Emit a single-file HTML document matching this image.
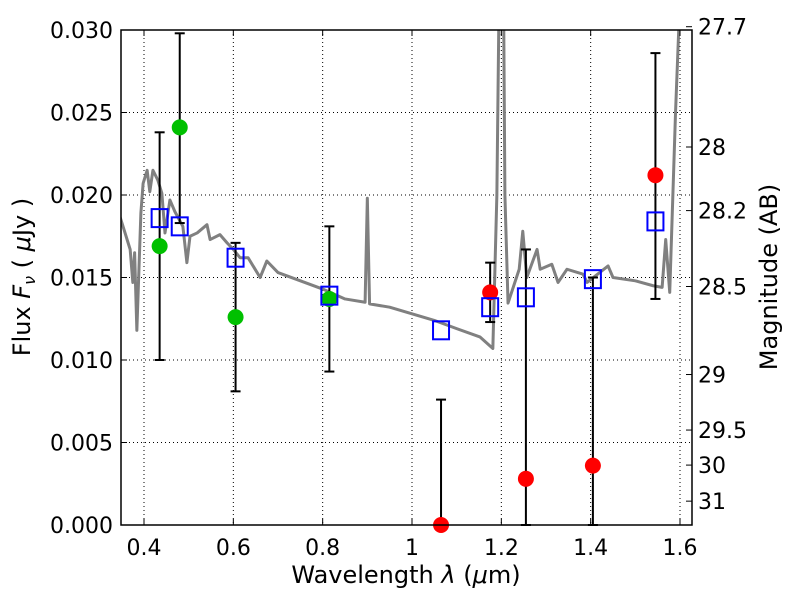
<!DOCTYPE html>
<html><head><meta charset="utf-8"><style>
body{margin:0;background:#fff;}
svg text{font-family:"DejaVu Sans","Liberation Sans",sans-serif;fill:#000;}
</style></head><body>
<svg id="chart" width="800" height="600" viewBox="0 0 800 600">
<rect width="800" height="600" fill="#fff"/>
<defs><clipPath id="clip"><rect x="121" y="30" width="571" height="495"/></clipPath></defs>
<g id="grid"></g>
<g id="spec" clip-path="url(#clip)"></g>
<g id="marks"></g>
<rect x="121" y="30" width="571" height="495" fill="none" stroke="#000" stroke-width="1.5"/>
<g id="axes"></g>
<text x="406" y="583" font-size="24" text-anchor="middle">Wavelength  <tspan font-style="italic">λ</tspan> (<tspan font-style="italic">μ</tspan>m)</text>
<text transform="translate(30,277) rotate(-90)" font-size="24" text-anchor="middle">Flux  <tspan font-style="italic">F</tspan><tspan font-style="italic" font-size="16" dy="5">ν</tspan><tspan dy="-5">  ( </tspan><tspan font-style="italic">μ</tspan>Jy )</text>
<text transform="translate(777,277) rotate(-90)" font-size="24" text-anchor="middle">Magnitude (AB)</text>
</svg>
<script>
const specLam=[0.346,0.353,0.369,0.375,0.379,0.384,0.393,0.398,0.407,0.413,0.42,0.431,0.44,0.447,0.458,0.469,0.487,0.496,0.503,0.519,0.541,0.548,0.57,0.586,0.6,0.615,0.633,0.66,0.675,0.7,0.75,0.8,0.85,0.895,0.9,0.905,0.95,1.0,1.05,1.1,1.152,1.181,1.19,1.195,1.205,1.208,1.215,1.24,1.248,1.257,1.28,1.287,1.313,1.327,1.347,1.383,1.392,1.439,1.45,1.5,1.54,1.56,1.568,1.577,1.59,1.6,1.62,1.63];
const specFlux=[0.0187,0.0181,0.0167,0.0147,0.0165,0.0118,0.0189,0.0207,0.0215,0.0202,0.0215,0.0209,0.0201,0.0177,0.0197,0.019,0.0181,0.0159,0.0175,0.0177,0.0182,0.0173,0.0176,0.0171,0.0167,0.0162,0.0162,0.015,0.016,0.0153,0.0148,0.0143,0.0137,0.0135,0.0198,0.0134,0.0132,0.0128,0.0124,0.0119,0.0114,0.0107,0.02,0.032,0.032,0.02,0.01345,0.0155,0.0178,0.015,0.0167,0.0155,0.0158,0.0147,0.0155,0.0152,0.0147,0.0157,0.015,0.0148,0.0145,0.0144,0.0173,0.0141,0.025,0.032,0.032,0.032];
const bandLam=[0.435,0.48,0.605,0.815,1.065,1.175,1.255,1.405,1.545];
const obsFlux=[0.0169,0.0241,0.0126,0.0137,0.0,0.0141,0.0028,0.0036,0.0212];
const errLo=[0.0100,0.0183,0.0081,0.0093,0.0,0.0123,0.0,0.0,0.0137];
const errHi=[0.0238,0.0298,0.0171,0.0181,0.0076,0.0159,0.0167,0.0150,0.0286];
const modelFlux=[0.0186,0.0181,0.0162,0.0139,0.0118,0.0132,0.0138,0.0149,0.0184];
const pointColor=['#00c000','#00c000','#00c000','#00c000','#ff0000','#ff0000','#ff0000','#ff0000','#ff0000'];
const xTicks=[0.4,0.6,0.8,1.0,1.2,1.4,1.6];
const xTickLabels=['0.4','0.6','0.8','1','1.2','1.4','1.6'];
const yTicks=[0,0.005,0.01,0.015,0.02,0.025,0.03];
const yTickLabels=['0.000','0.005','0.010','0.015','0.020','0.025','0.030'];
const magTicks=[27.7,28,28.2,28.5,29,29.5,30,31];
const magLabels=['27.7','28','28.2','28.5','29','29.5','30','31'];

const X=l=>144+(l-0.4)/1.2*536;
const Y=f=>525-f/0.03*495;
const magToFlux=m=>Math.pow(10,-0.4*(m-23.9));
const NS='http://www.w3.org/2000/svg';
function mk(tag,attrs,parent){const e=document.createElementNS(NS,tag);for(const k in attrs)e.setAttribute(k,attrs[k]);parent.appendChild(e);return e;}
const grid=document.getElementById('grid'),axes=document.getElementById('axes'),spec=document.getElementById('spec'),marks=document.getElementById('marks');

xTicks.forEach((t,i)=>{
  const x=X(t);
  const g=mk('line',{x1:x,x2:x,y1:30,y2:525,stroke:'#000','stroke-width':1,'stroke-dasharray':'1,3'},grid);
  
  
  mk('line',{x1:x,x2:x,y1:525,y2:519,stroke:'#000'},axes);
  mk('line',{x1:x,x2:x,y1:30,y2:36,stroke:'#000'},axes);
  const tx=mk('text',{x:x,y:555,'font-size':22,'text-anchor':'middle'},axes);
  tx.textContent=xTickLabels[i];
  
  
});
yTicks.forEach((t,i)=>{
  const y=Y(t);
  const g=mk('line',{x1:121,x2:692,y1:y,y2:y,stroke:'#000','stroke-width':1,'stroke-dasharray':'1,3'},grid);
  
  
  mk('line',{x1:121,x2:127,y1:y,y2:y,stroke:'#000'},axes);
  const tx=mk('text',{x:113,y:y+8,'font-size':22,'text-anchor':'end'},axes);
  tx.textContent=yTickLabels[i];
  
  
});
magTicks.forEach((m,i)=>{
  const y=Y(magToFlux(m));
  mk('line',{x1:686,x2:692,y1:y,y2:y,stroke:'#000'},axes);
  const tx=mk('text',{x:698,y:y+8,'font-size':22},axes);
  tx.textContent=magLabels[i];
  
  
});
const pl=mk('polyline',{points:specLam.map((l,i)=>X(l)+','+Y(specFlux[i])).join(' '),fill:'none',stroke:'#808080','stroke-width':3,'stroke-linejoin':'round'},spec);


bandLam.forEach((l,i)=>{
  const x=X(l);
  const e=mk('g',{},marks);
  
  
  mk('line',{x1:x,x2:x,y1:Y(errLo[i]),y2:Y(errHi[i]),stroke:'#000','stroke-width':2},e);
  mk('line',{x1:x-5,x2:x+5,y1:Y(errLo[i]),y2:Y(errLo[i]),stroke:'#000','stroke-width':2},e);
  mk('line',{x1:x-5,x2:x+5,y1:Y(errHi[i]),y2:Y(errHi[i]),stroke:'#000','stroke-width':2},e);
});
bandLam.forEach((l,i)=>{
  const c=mk('circle',{cx:X(l),cy:Y(obsFlux[i]),r:8,fill:pointColor[i]},marks);
  
  
});
bandLam.forEach((l,i)=>{
  const r=mk('rect',{x:X(l)-8,y:Y(modelFlux[i])-9,width:16,height:18,fill:'none',stroke:'#0000ff','stroke-width':2},marks);
  
  
});
</script>
</body></html>
